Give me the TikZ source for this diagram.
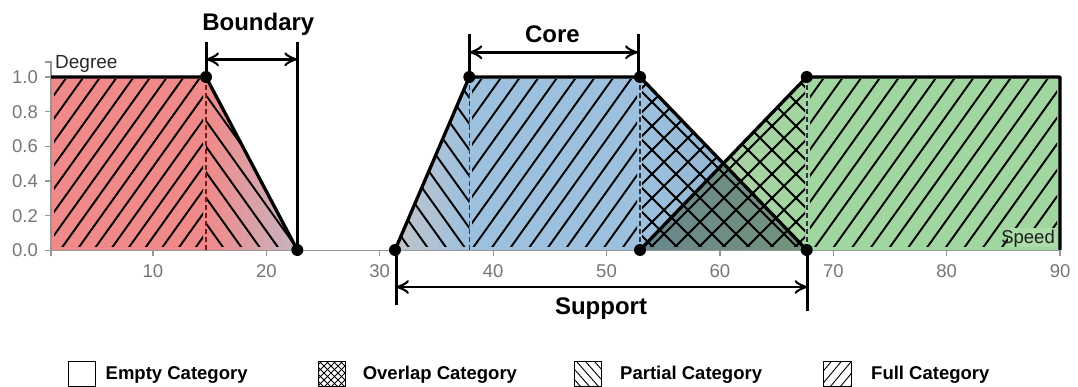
\documentclass[tikz,border=0pt]{standalone}
\usepackage{fontspec}
\setmainfont{Liberation Sans}
\usetikzlibrary{arrows.meta}
\definecolor{redfill}{RGB}{240,137,137}
\definecolor{redgray}{RGB}{198,182,194}
\definecolor{bluefill}{RGB}{156,192,222}
\definecolor{bluegray}{RGB}{194,196,202}
\definecolor{bluedark}{RGB}{142,172,196}
\definecolor{greenfill}{RGB}{162,214,160}
\definecolor{greenlite}{RGB}{172,220,168}
\definecolor{greengray}{RGB}{180,202,172}
\definecolor{ovleft}{RGB}{104,134,142}
\definecolor{ovright}{RGB}{116,148,122}
\definecolor{axisgray}{RGB}{150,150,150}
\definecolor{tickgray}{RGB}{118,118,118}
\definecolor{dashred}{RGB}{120,25,25}
\definecolor{dashblue}{RGB}{40,60,90}
\definecolor{dashdark}{RGB}{45,50,60}
\begin{document}
\begin{tikzpicture}[x=1pt,y=-1pt,
  outline/.style={line width=3.3pt, line join=round},
  hatch/.style={line width=1.9pt},
  dashln/.style={line width=1.6pt, dash pattern=on 5pt off 3pt},
  dot/.style={circle, fill=black, inner sep=0pt, minimum size=12pt},
  bar/.style={line width=3pt},
  dim/.style={line width=2.6pt, {Classical TikZ Rightarrow[length=13pt,width=14pt]}-{Classical TikZ Rightarrow[length=13pt,width=14pt]}},
  axisln/.style={draw=axisgray, line width=1.2pt},
  ticklbl/.style={text=tickgray, font=\fontsize{18.5}{18.5}\selectfont, inner sep=0pt},
  annot/.style={font=\fontsize{24}{24}\selectfont\bfseries, inner sep=0pt, anchor=base},
  legbox/.style={draw=black, line width=1pt},
  leghatch/.style={line width=0.9pt},
  legtxt/.style={font=\fontsize{18.5}{18.5}\selectfont\bfseries, inner sep=0pt, anchor=base west},
]
\useasboundingbox (0,0) rectangle (1078,387);
% key points
\coordinate (r0) at (51,250);
\coordinate (r1) at (51,77);
\coordinate (r2) at (206,77);
\coordinate (r2b) at (206,250);
\coordinate (r3) at (297.3,250);
\coordinate (b1) at (395,250);
\coordinate (b2) at (469.3,77);
\coordinate (b2b) at (469.3,250);
\coordinate (b3) at (640,77);
\coordinate (b4) at (806.7,250);
\coordinate (g1) at (640,250);
\coordinate (g2) at (806.7,77);
\coordinate (g3) at (1060,77);
\coordinate (g4) at (1060,250);
\coordinate (gx) at (723.35,163.35);
% fills
\fill[redfill] (r1) rectangle (r2b);
\shade[left color=redfill, right color=redgray] (r2) -- (r3) -- (r2b) -- cycle;
\shade[left color=bluegray, right color=bluefill] (b1) -- (b2) -- (b2b) -- cycle;
\fill[bluefill] (b2) rectangle (g1);
\shade[left color=bluefill, right color=bluedark] (b3) -- (b4) -- (g1) -- cycle;
\shade[left color=greengray, right color=greenfill] (g1) -- (g2) -- (b4) -- cycle;
\shade[left color=ovleft, right color=ovright] (g1) -- (gx) -- (b4) -- cycle;
\fill[greenfill] (g2) rectangle (g4);
% hatching
\begin{scope}
  \clip (54,80) rectangle (203,247);
  \foreach \c in {-158.3,-141.6,...,215} \draw[hatch] (\c,252) -- ++(200,-280);
\end{scope}
\begin{scope}
  \clip (r2) -- (r3) -- (r2b) -- cycle;
  \clip (200,80) rectangle (300,247);
  \foreach \c in {206.7,225,...,440} \draw[hatch] (\c,250) -- ++(-200,-280);
\end{scope}
\begin{scope}
  \clip (b1) -- (b2) -- (b2b) -- cycle;
  \clip (380,80) rectangle (470,247);
  \foreach \c in {392.1,410.7,...,620} \draw[hatch] (\c,250) -- ++(-200,-280);
\end{scope}
\begin{scope}
  \clip (472,80) rectangle (637,247);
  \foreach \c in {339.1,357.8,...,645} \draw[hatch] (\c,252) -- ++(200,-280);
\end{scope}
\begin{scope}
  \clip (b3) -- (gx) -- (g2) -- (b4) -- (g1) -- cycle;
  \clip (642,80) rectangle (805,247);
  \foreach \c in {430,454,...,1030} {
    \draw[hatch] (\c,252) -- ++(200,-200);
    \draw[hatch] (\c+12,252) -- ++(-200,-200);
  }
\end{scope}
\begin{scope}
  \clip (810,80) rectangle (1057,247);
  \foreach \c in {680.7,699.4,...,1070} \draw[hatch] (\c,252) -- ++(200,-280);
\end{scope}
% dashed verticals
\draw[dashln, dashred] (r2) -- (r2b);
\draw[dashln, dashblue] (b2) -- (b2b);
\draw[dashln, dashdark] (b3) -- (g1);
\draw[dashln, dashdark] (g2) -- (b4);
% axes
\draw[axisln] (45,62) -- (51,62) -- (51,250.5);
\foreach \v/\lab in {0/0.0,1/0.2,2/0.4,3/0.6,4/0.8,5/1.0} {
  \draw[axisln] (45,250.5-34.7*\v) -- (51,250.5-34.7*\v);
  \node[ticklbl, anchor=east] (yl\v) at (38,250.5-34.7*\v) {\lab};
}
\draw[axisln] (51,256.5) -- (51,250.5) -- (1060,250.5) -- (1060,256.5);
\foreach \d in {10,20,...,90} {
  \draw[axisln] (39.5+11.34*\d,250.5) -- (39.5+11.34*\d,256.5);
  \node[ticklbl, anchor=base] (xl\d) at (39.5+11.34*\d,277) {\d};
}
\node[font=\fontsize{19}{19}\selectfont, text={rgb,255:red,40;green,40;blue,40}, inner sep=0pt, anchor=base west] (deg) at (55,68.5) {Degree};
\fill[greenlite] (1008,228) rectangle (1057,247);
\node[font=\fontsize{18.5}{18.5}\selectfont, text={rgb,255:red,30;green,30;blue,30}, inner sep=0pt, anchor=base east] (spd) at (1055,243.5) {Speed};
% outlines
\draw[outline] (r1) -- (r2) -- (r3);
\draw[outline] (b1) -- (b2) -- (b3) -- (b4);
\draw[outline] (g1) -- (g2) -- (g3) -- (g4);
% annotation bars and arrows
\coordinate (bdl) at (206,42);
\coordinate (bdr) at (297.3,42);
\coordinate (bal) at (206,59.3);
\coordinate (bar) at (297.3,59.3);
\draw[bar] (bdl) -- (r2);
\draw[bar] (bdr) -- (r3);
\draw[dim] (bal) -- (bar);
\node[annot] (tbound) at (258.3,30.2) {Boundary};
\coordinate (cdl) at (469.3,34);
\coordinate (cdr) at (638,34);
\coordinate (cl) at (469.3,77);
\coordinate (cr) at (638,77);
\coordinate (cal) at (469.3,52.3);
\coordinate (car) at (638,52.3);
\draw[bar] (cdl) -- (cl);
\draw[bar] (cdr) -- (cr);
\draw[dim] (cal) -- (car);
\node[annot] (tcore) at (552.5,43) {Core};
\coordinate (sdl) at (396,305);
\coordinate (sdr) at (807.5,311);
\coordinate (sl) at (396,250);
\coordinate (sr) at (807.5,250);
\coordinate (sal) at (396,287);
\coordinate (sar) at (807.5,287);
\draw[bar] (sl) -- (sdl);
\draw[bar] (sr) -- (sdr);
\draw[dim] (sal) -- (sar);
\node[annot] (tsup) at (601,314.5) {Support};
% dots
\foreach \p in {r2,r3,b1,b2,b3,b4,g1,g2} \node[dot] (dot\p) at (\p) {};
% legend
\draw[legbox] (68,361) rectangle (95.5,386.3);
\node[legtxt] (l1) at (105.5,379.5) {Empty Category};
\begin{scope}
  \clip (318,361) rectangle (345.5,386.3);
  \foreach \c in {296,303,...,372} {
    \draw[leghatch] (\c,387) -- ++(30,-30);
    \draw[leghatch] (\c,387) -- ++(-30,-30);
  }
\end{scope}
\draw[legbox] (318,361) rectangle (345.5,386.3);
\node[legtxt] (l2) at (362.6,379.5) {Overlap Category};
\begin{scope}
  \clip (574,361) rectangle (601.5,386.3);
  \foreach \c in {572,581,...,640} \draw[leghatch] (\c,387) -- ++(-30,-34);
\end{scope}
\draw[legbox] (574,361) rectangle (601.5,386.3);
\node[legtxt] (l3) at (620,379.5) {Partial Category};
\begin{scope}
  \clip (823.5,361) rectangle (851,386.3);
  \foreach \c in {800,810,...,860} \draw[leghatch] (\c,387) -- ++(30,-36);
\end{scope}
\draw[legbox] (823.5,361) rectangle (851,386.3);
\node[legtxt] (l4) at (871,379.5) {Full Category};
\end{tikzpicture}
\end{document}
